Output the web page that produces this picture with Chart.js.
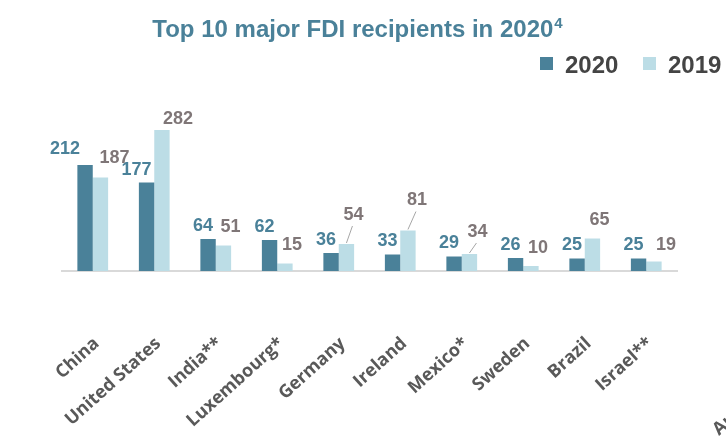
<!DOCTYPE html>
<html>
<head>
<meta charset="utf-8">
<script src="https://cdn.jsdelivr.net/npm/chart.js@4"></script>
<style>
html,body{margin:0;padding:0;background:#fff;}
#wrap{width:726px;height:442px;position:relative;}
</style>
</head>
<body>
<div id="wrap"><canvas id="c" width="726" height="442"></canvas></div>
<script>
const categories = ["China","United States","India**","Luxembourg*","Germany","Ireland","Mexico*","Sweden","Brazil","Israel**"];
const values2020 = [212,177,64,62,36,33,29,26,25,25];
const values2019 = [187,282,51,15,54,81,34,10,65,19];
const seriesNames = ["2020","2019"];
const titleText = "Top 10 major FDI recipients in 2020";
const titleSup = "4";

const DARK = "#4a8199";
const LIGHT = "#bcdde6";
const GRAY_LBL = "#7f7677";

// label offset overrides: [datasetIndex, index] -> [dx, dy, leader]
const labelOverrides = {
  "0-0": [-20, -16, false],
  "0-1": [-10, -12, false],
  "1-0": [14, -19, false],
  "1-1": [16, -11, false],
  "1-4": [7, -29, true],
  "1-5": [9, -30, true],
  "1-6": [8, -22, true],
  "1-9": [12, -16, false]
};

const customDraw = {
  id: 'customDraw',
  afterDraw(chart) {
    const ctx = chart.ctx;
    ctx.save();
    // Title
    const tFont = "bold 24px 'Liberation Sans', Arial, sans-serif";
    const sFont = "bold 15px 'Liberation Sans', Arial, sans-serif";
    ctx.font = tFont;
    ctx.fillStyle = DARK;
    ctx.textBaseline = "alphabetic";
    const w = ctx.measureText(titleText).width;
    ctx.font = sFont;
    const ws = ctx.measureText(titleSup).width;
    const tx = 357 - (w + ws) / 2;
    ctx.font = tFont;
    ctx.textAlign = "left";
    ctx.fillText(titleText, tx, 37);
    ctx.font = sFont;
    ctx.fillText(titleSup, tx + w + 1, 28);

    // Legend
    const legendItems = [
      {text: seriesNames[0], color: DARK, box: 540},
      {text: seriesNames[1], color: LIGHT, box: 643}
    ];
    ctx.font = "bold 24px 'Liberation Sans', Arial, sans-serif";
    legendItems.forEach(it => {
      ctx.fillStyle = it.color;
      ctx.fillRect(it.box, 57, 13, 13);
      ctx.fillStyle = "#444444";
      ctx.fillText(it.text, it.box + 25, 73);
    });

    // Value labels
    ctx.font = "bold 18px 'Liberation Sans', Arial, sans-serif";
    ctx.textAlign = "center";
    ctx.textBaseline = "middle";
    chart.data.datasets.forEach((ds, di) => {
      const meta = chart.getDatasetMeta(di);
      meta.data.forEach((bar, i) => {
        const key = di + "-" + i;
        let dx = di === 0 ? -5 : 7;
        let dy = di === 0 ? -13 : -18;
        let leader = false;
        if (labelOverrides[key]) { [dx, dy, leader] = labelOverrides[key]; }
        const lx = bar.x + dx, ly = bar.y + dy;
        if (leader) {
          ctx.strokeStyle = "#a6a6a6";
          ctx.lineWidth = 1;
          ctx.beginPath();
          ctx.moveTo(bar.x, bar.y - 1);
          ctx.lineTo(lx - 1, ly + 11);
          ctx.stroke();
        }
        ctx.fillStyle = di === 0 ? DARK : GRAY_LBL;
        ctx.fillText(String(ds.data[i]), lx, ly);
      });
    });

    // clipped fragment of neighbouring label
    ctx.translate(719, 436);
    ctx.rotate(-42 * Math.PI / 180);
    ctx.font = "bold 18px 'Open Sans', sans-serif";
    ctx.fillStyle = "#595959";
    ctx.textAlign = "left";
    ctx.textBaseline = "alphabetic";
    ctx.fillText("Australia", 0, 0);
    ctx.restore();
  }
};

new Chart(document.getElementById('c'), {
  type: 'bar',
  data: {
    labels: categories,
    datasets: [
      {label: seriesNames[0], data: values2020, backgroundColor: DARK, borderWidth: 0},
      {label: seriesNames[1], data: values2019, backgroundColor: LIGHT, borderWidth: 0}
    ]
  },
  options: {
    responsive: false,
    animation: false,
    devicePixelRatio: 1,
    categoryPercentage: 0.5,
    barPercentage: 1.0,
    layout: { padding: { left: 62, right: 49, top: 121, bottom: 0 } },
    plugins: {
      legend: { display: false },
      title: { display: false },
      tooltip: { enabled: false }
    },
    scales: {
      x: {
        afterFit(scale) {
          scale.paddingLeft = 0;
          scale.paddingRight = 0;
          scale.height = 171;
        },
        grid: { display: false, drawTicks: false },
        border: { display: true, color: "#d9d9d9", width: 2 },
        ticks: {
          autoSkip: false,
          maxRotation: 42,
          minRotation: 42,
          padding: 62,
          labelOffset: 4,
          color: "#595959",
          font: { family: "'Open Sans', sans-serif", size: 18, weight: 'bold' }
        }
      },
      y: {
        display: false,
        min: 0,
        max: 300
      }
    }
  },
  plugins: [customDraw]
});
</script>
</body>
</html>
